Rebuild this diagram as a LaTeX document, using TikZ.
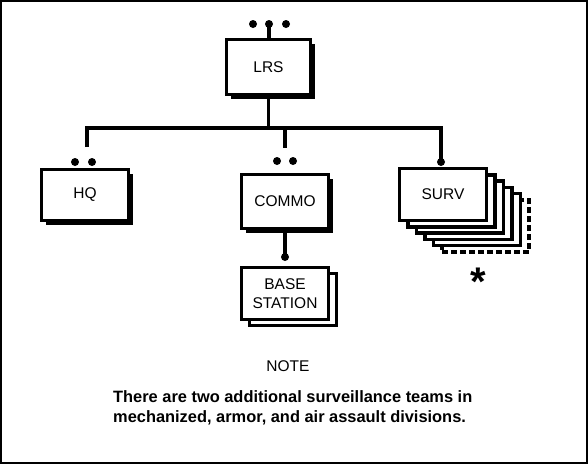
\documentclass[tikz,border=0pt]{standalone}
\usepackage{fontspec}
\setmainfont{Liberation Sans}
\usetikzlibrary{shadows}
\begin{document}
\begin{tikzpicture}[x=1pt,y=-1pt,
  lbl/.style={font=\fontsize{15.5}{17}\selectfont},
  plainbox/.style={draw, line width=3.5pt, fill=white, inner sep=0pt, align=center, lbl},
  unitbox/.style={plainbox, drop shadow={shadow xshift=4.5pt, shadow yshift=-4.5pt, fill=black, opacity=1}},
  dot/.style={circle, fill=black, inner sep=0pt, minimum size=8pt},
  wire/.style={line width=3.5pt},
]
\useasboundingbox (0,0) rectangle (588,464);
\draw[line width=2pt] (1,1) rectangle (587,463);

% LRS
\node[unitbox, minimum width=84pt, minimum height=55pt] (lrs) at (268.5,67) {LRS};
\node[dot] (lrsd1) at (253,24) {};
\node[dot] (lrsd2) at (269,24) {};
\node[dot] (lrsd3) at (286,24) {};
\draw[wire] (lrsd2.center) -- (lrsd2 |- lrs.north);

% bus
\coordinate (busL) at (87,128);
\coordinate (busR) at (441,128);
\coordinate (busC) at (285,128);
\coordinate (hqstub) at (87,147);
\coordinate (commostub) at (285,148);
\draw[wire] (lrs.south) -- (lrs.south |- busL);

% HQ
\node[unitbox, minimum width=87pt, minimum height=51pt] (hq) at (85,195) {HQ};
\node[dot] (hqd1) at (75,162) {};
\node[dot] (hqd2) at (92,162) {};

% COMMO
\node[unitbox, minimum width=87pt, minimum height=54pt] (commo) at (285,201.5) {COMMO};
\node[dot] (commod1) at (277,161) {};
\node[dot] (commod2) at (293,161) {};
\draw[wire] (busC) -- (commostub);

% SURV stack
\node[plainbox, dashed, dash pattern=on 6pt off 3pt, minimum width=87pt, minimum height=52pt] (survl5) at (443+8.5*5,194.5+6.3*5) {};
\foreach \i in {4,3,2,1}
  \node[plainbox, minimum width=87pt, minimum height=52pt] (survl\i) at (443+8.5*\i,194.5+6.3*\i) {};
\node[plainbox, minimum width=87pt, minimum height=52pt] (surv) at (443,194.5) {SURV};
\node[dot] (survd) at (441,162) {};
\draw[wire] (hqstub) -- (busL) -- (busR) -- (survd.center);

% BASE STATION
\node[dot] (based) at (285,257) {};
\draw[wire] (commo.south) -- (based.center);
\node[plainbox, minimum width=87pt, minimum height=52pt] (baseback) at (293,299.5) {};
\node[plainbox, minimum width=87pt, minimum height=52pt, font=\fontsize{15.5}{19}\selectfont] (base) at (285,293.5) {BASE\\STATION};

% star
\node[font=\bfseries\fontsize{40}{40}\selectfont, inner sep=0pt] (star) at (478,282) {*};

% note
\node[lbl] (note) at (288,366) {NOTE};
\node[font=\bfseries\fontsize{16.4}{20}\selectfont, align=left, anchor=west, inner sep=0pt] (notetext) at (113,408) {There are two additional surveillance teams in\\mechanized, armor, and air assault divisions.};
\end{tikzpicture}
\end{document}
